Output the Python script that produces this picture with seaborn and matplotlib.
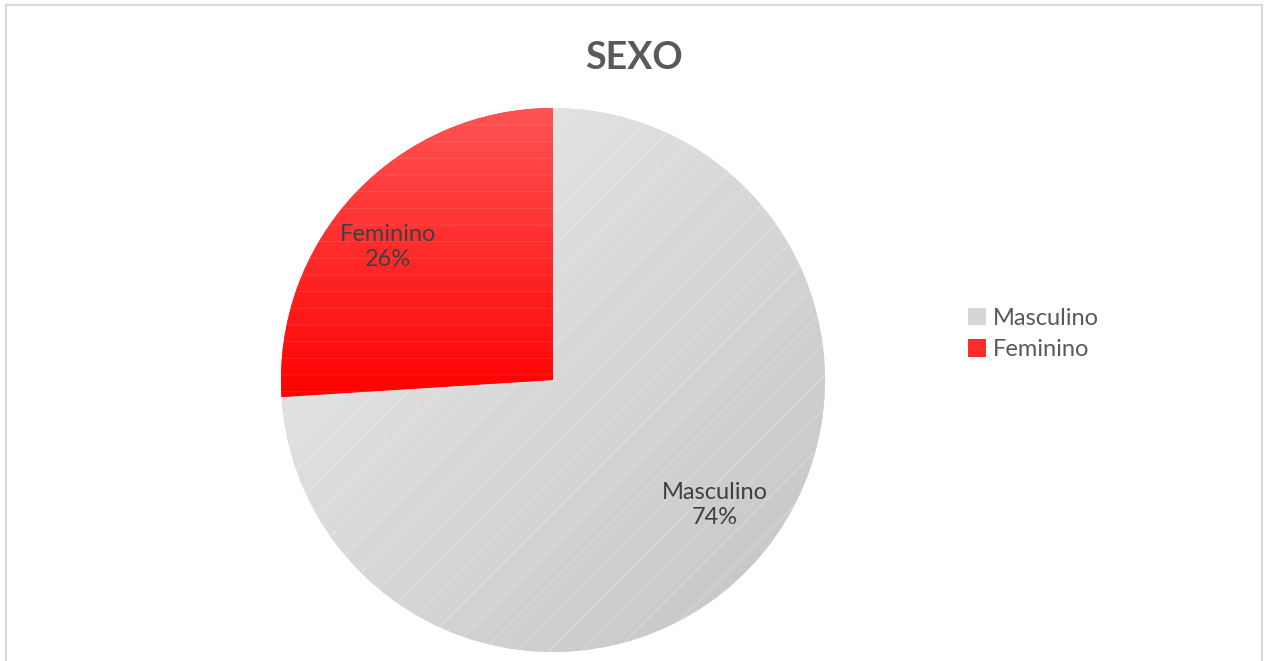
import numpy as np
import matplotlib
matplotlib.use("Agg")
import matplotlib.pyplot as plt
import seaborn as sns
from matplotlib.patches import Rectangle, Patch
from matplotlib.colors import LinearSegmentedColormap

# ---- data ----
categories = ["Masculino", "Feminino"]
values = [74, 26]
title = "SEXO"

# ---- style ----
sns.set_theme(style="white")
plt.rcParams["font.family"] = ["Lato", "DejaVu Sans"]

W, H = 1268, 661
fig = plt.figure(figsize=(W / 100, H / 100), dpi=100)
fig.patch.set_facecolor("white")

# outer frame
fig.add_artist(Rectangle((6 / W, -0.05), (1262 - 6) / W, 1.05 - 5 / H,
                         transform=fig.transFigure, fill=False,
                         edgecolor="#d9d9d9", linewidth=1.5))

cx, cy, r = 553, 380, 272
ax = fig.add_axes([(cx - r) / W, (H - cy - r) / H, 2 * r / W, 2 * r / H])

base_colors = ["#d9d9d9", "#ff2020"]
wedges, _ = ax.pie(values, colors=base_colors, startangle=90, counterclock=False,
                   radius=1, wedgeprops=dict(linewidth=0))

# gradient fills clipped to wedges
yy, xx = np.mgrid[1:-1:400j, -1:1:400j]
grad_m = ((xx - yy) + 2) / 4.0  # top-left light -> bottom-right dark
cmap_m = LinearSegmentedColormap.from_list("m", ["#ececec", "#c4c4c4"])
im = ax.imshow(grad_m, extent=(-1, 1, -1, 1), cmap=cmap_m, vmin=0, vmax=1,
               zorder=2, interpolation="bilinear")
im.set_clip_path(wedges[0])
grad_f = np.clip((1 - yy) / 1.08, 0, 1)
cmap_f = LinearSegmentedColormap.from_list("f", ["#ff5454", "#ff0000"])
im2 = ax.imshow(grad_f, extent=(-1, 1, -1, 1), cmap=cmap_f, vmin=0, vmax=1,
                zorder=2, interpolation="bilinear")
im2.set_clip_path(wedges[1])

# faint stripe texture
plt.rcParams["hatch.linewidth"] = 0.6
hw, _ = ax.pie(values, startangle=90, counterclock=False, radius=1,
               wedgeprops=dict(fill=False, linewidth=0))
for w, hatch, hc in zip(hw, ["/", "-"], [(1, 1, 1, 0.35), (1, 1, 1, 0.12)]):
    w.set_hatch(hatch)
    w.set_edgecolor(hc)
    w.set_zorder(3)

ax.set_xlim(-1, 1)
ax.set_ylim(-1, 1)
ax.set_aspect("equal")
ax.axis("off")

# data labels
label_pos = [(0.596, -0.46), (-0.607, 0.489)]
for w, cat, v, (lx, ly) in zip(wedges, categories, values, label_pos):
    ax.text(lx, ly, f"{cat}\n{v}%", ha="center", va="center", fontsize=17,
            color="#404040", linespacing=1.25, zorder=5)

# title
fig.text(634 / W, 1 - 58 / H, title, ha="center", va="center", fontsize=27,
         fontweight="bold", color="#595959")

# legend
handles = [Patch(facecolor="#d6d6d6", edgecolor="none"),
           Patch(facecolor="#ff2a2a", edgecolor="none")]
fig.legend(handles, categories, loc="center left",
           bbox_to_anchor=(968 / W, 1 - 334 / H), frameon=False,
           fontsize=17, labelcolor="#595959", handlelength=0.75,
           handleheight=0.75, handletextpad=0.3, labelspacing=0.45,
           borderpad=0, borderaxespad=0)

fig.savefig("out.png", dpi=100)
